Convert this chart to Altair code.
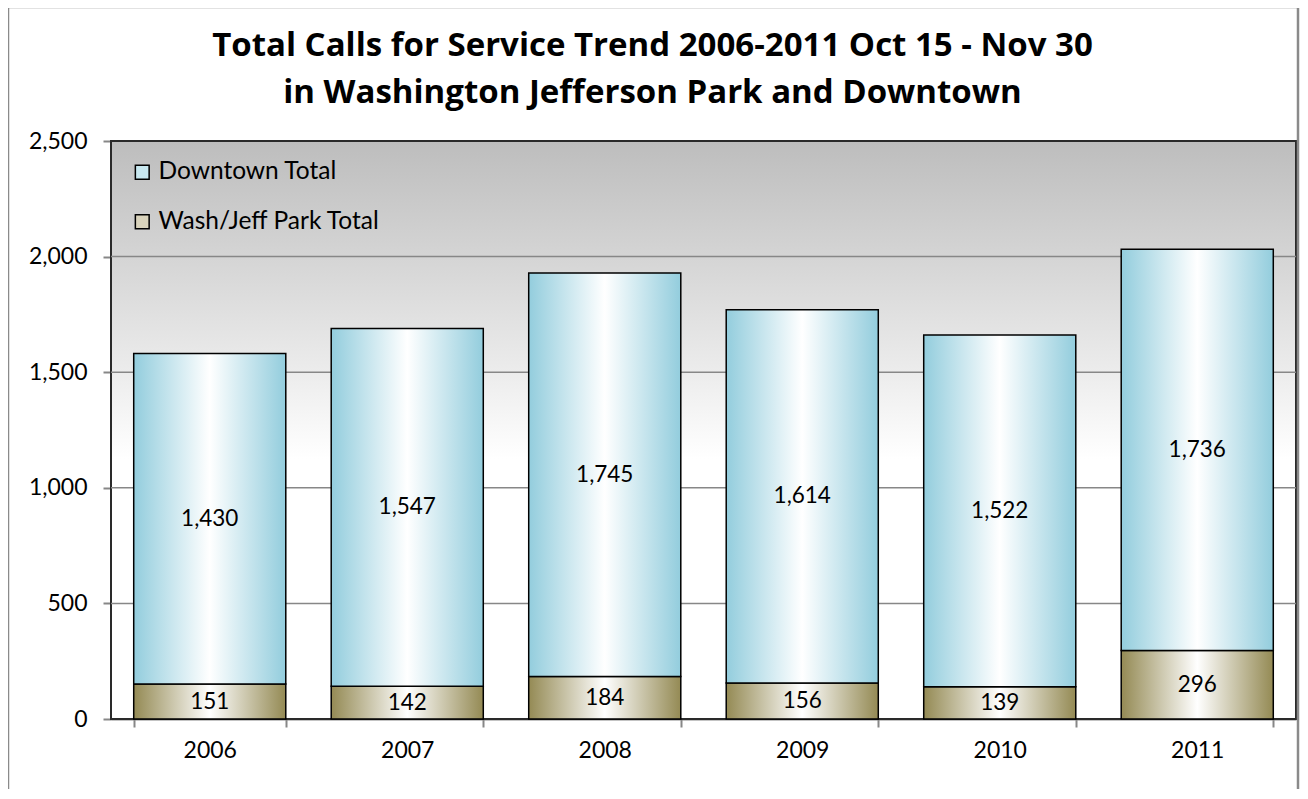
import altair as alt
import pandas as pd

years = ["2006", "2007", "2008", "2009", "2010", "2011"]
wash = [151, 142, 184, 156, 139, 296]
downtown = [1430, 1547, 1745, 1614, 1522, 1736]
series_names = ["Wash/Jeff Park Total", "Downtown Total"]
legend_order = ["Downtown Total", "Wash/Jeff Park Total"]
y_ticks = [0, 500, 1000, 1500, 2000, 2500]
grid_vals = [500, 1000, 1500, 2000]
title_lines = ["Total Calls for Service Trend 2006-2011 Oct 15 - Nov 30",
               "in Washington Jefferson Park and Downtown"]

rows = []
for i, yr in enumerate(years):
    rows.append({"year": yr, "series": series_names[0], "value": wash[i], "order": 0})
    rows.append({"year": yr, "series": series_names[1], "value": downtown[i], "order": 1})
df = pd.DataFrame(rows)
grid_df = pd.DataFrame({"v": grid_vals})
one = pd.DataFrame({"k": [0]})

W, H = 1185, 578
FONT = "Lato"
GRAY = "#878787"

yscale = alt.Scale(domain=[0, 2500], nice=False)
xscale = alt.Scale(domain=years, paddingInner=0.23, paddingOuter=0.115)

xaxis = alt.Axis(title=None, labelAngle=0, tickBand="extent", labelFontSize=23,
                 labelFont=FONT, labelColor="black", labelPadding=12, tickSize=8,
                 tickColor=GRAY, tickWidth=2, domainColor=GRAY, domainWidth=2, grid=False)
yaxis = alt.Axis(title=None, values=y_ticks, labelExpr="format(datum.value, ',')",
                 labelFontSize=23, labelFont=FONT,
                 labelColor="black", labelPadding=16, tickSize=8, tickColor=GRAY, tickWidth=2,
                 domainColor=GRAY, domainWidth=2, grid=False)

bg_grad = alt.Gradient(gradient="linear", x1=0, y1=0, x2=0, y2=1,
                       stops=[alt.GradientStop(color="#bdbdbd", offset=0),
                              alt.GradientStop(color="#ececec", offset=0.4),
                              alt.GradientStop(color="#ffffff", offset=0.55),
                              alt.GradientStop(color="#ffffff", offset=1)])
blue_grad = alt.Gradient(gradient="linear", x1=0, y1=0, x2=1, y2=0,
                         stops=[alt.GradientStop(color="#93cddd", offset=0),
                                alt.GradientStop(color="#ffffff", offset=0.5),
                                alt.GradientStop(color="#93cddd", offset=1)])
olive_grad = alt.Gradient(gradient="linear", x1=0, y1=0, x2=1, y2=0,
                          stops=[alt.GradientStop(color="#948a54", offset=0),
                                 alt.GradientStop(color="#ffffff", offset=0.5),
                                 alt.GradientStop(color="#948a54", offset=1)])

background = alt.Chart(one).mark_rect(fill=bg_grad, stroke="#2a2a2a", strokeWidth=2).encode(
    x=alt.value(0), x2=alt.value(W), y=alt.value(0), y2=alt.value(H))

grid = alt.Chart(grid_df).mark_rule(color=GRAY, strokeWidth=1.5).encode(
    y=alt.Y("v:Q", scale=yscale, axis=yaxis))

stacked = alt.Chart(df).transform_stack(
    stack="value", groupby=["year"], as_=["y0", "y1"], sort=[alt.SortField("order")]
).transform_calculate(mid="(datum.y0 + datum.y1) / 2")

legend_bars = stacked.mark_bar().encode(
    x=alt.X("year:N", scale=xscale, axis=xaxis),
    y=alt.Y("y0:Q", scale=yscale, axis=yaxis),
    y2="y1:Q",
    color=alt.Color("series:N",
                    scale=alt.Scale(domain=legend_order, range=["#c8e8f0", "#d9d3bc"]),
                    legend=alt.Legend(title=None, orient="none", legendX=19, legendY=19,
                                      symbolType="square", symbolSize=190,
                                      symbolStrokeColor="black", symbolStrokeWidth=1.5,
                                      labelFontSize=24.5, labelFont=FONT, labelColor="black",
                                      labelLimit=500, rowPadding=24.5, labelOffset=4)))

def seg(name, grad):
    return stacked.transform_filter(alt.datum.series == name).mark_bar(
        fill=grad, stroke="black", strokeWidth=1.5).encode(
        x=alt.X("year:N", scale=xscale, axis=xaxis),
        y=alt.Y("y0:Q", scale=yscale, axis=yaxis),
        y2="y1:Q")

labels = stacked.mark_text(fontSize=22.5, font=FONT, color="black", baseline="middle").encode(
    x=alt.X("year:N", scale=xscale, axis=xaxis),
    y=alt.Y("mid:Q", scale=yscale, axis=yaxis),
    text=alt.Text("value:Q", format=","))

frame = alt.Chart(one).mark_rect(fillOpacity=0, stroke="#8a8a8a", strokeWidth=2.5).encode(
    x=alt.value(-103), x2=alt.value(1187), y=alt.value(-134), y2=alt.value(700))

chart = alt.layer(background, grid, legend_bars, seg(series_names[0], olive_grad),
                  seg(series_names[1], blue_grad), labels, frame).properties(
    width=W, height=H,
    title=alt.TitleParams(text=title_lines, fontSize=33, font="Open Sans", fontWeight="bold",
                          color="black", anchor="middle", dx=-51, offset=0, dy=104,
                          lineHeight=47),
    padding={"left": 103, "top": 133, "right": 4, "bottom": 70},
    autosize=alt.AutoSizeParams(type="none"),
    background="white"
).configure_view(strokeWidth=0)

chart.save("out.html", embed_options={"renderer": "svg", "actions": False})
